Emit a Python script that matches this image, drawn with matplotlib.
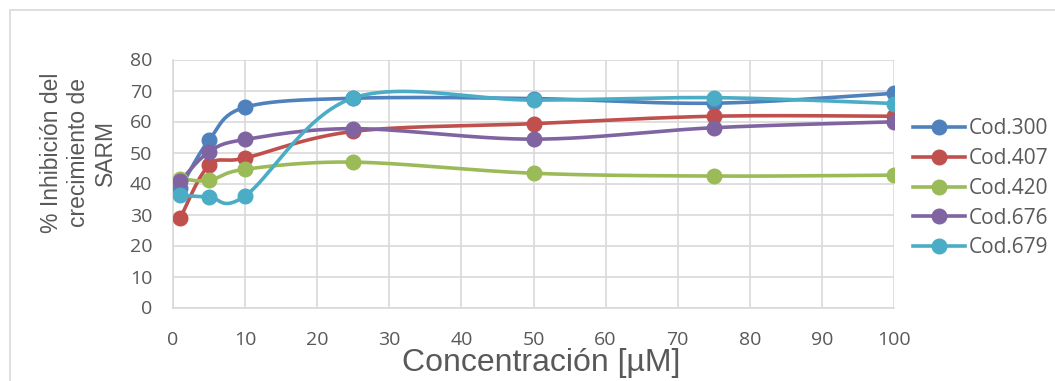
import numpy as np
import matplotlib.pyplot as plt
from matplotlib.patches import Rectangle

plt.rcParams['font.family'] = ['Open Sans', 'DejaVu Sans']

# Concentration (uM) and % inhibition for each compound
conc = [1, 5, 10, 25, 50, 75, 100]
cod300 = [38.5, 54.0, 64.6, 67.5, 67.4, 65.9, 69.1]
cod407 = [28.8, 45.9, 48.2, 56.8, 59.3, 61.7, 61.7]
cod420 = [41.5, 41.0, 44.6, 46.9, 43.3, 42.4, 42.7]
cod676 = [40.8, 50.2, 54.2, 57.7, 54.3, 58.0, 59.9]
cod679 = [36.2, 35.7, 36.0, 67.6, 66.9, 67.7, 65.8]

series = [
    ('Cod.300', cod300, '#4f81bd'),
    ('Cod.407', cod407, '#c0504d'),
    ('Cod.420', cod420, '#9bbb59'),
    ('Cod.676', cod676, '#8064a2'),
    ('Cod.679', cod679, '#4bacc6'),
]

x_ticks = list(range(0, 101, 10))
y_ticks = list(range(0, 81, 10))


def smooth(xs, ys, n=40):
    # Catmull-Rom style bezier through the points (like spreadsheet "smoothed line")
    p = np.column_stack([xs, ys]).astype(float)
    p_ext = np.vstack([p[0], p, p[-1]])
    out = []
    t = np.linspace(0, 1, n)[:, None]
    for i in range(1, len(p_ext) - 2):
        p0, p1, p2, p3 = p_ext[i - 1], p_ext[i], p_ext[i + 1], p_ext[i + 2]
        c1 = p1 + (p2 - p0) / 6
        c2 = p2 - (p3 - p1) / 6
        seg = ((1 - t) ** 3) * p1 + 3 * ((1 - t) ** 2) * t * c1 + 3 * (1 - t) * t ** 2 * c2 + t ** 3 * p2
        out.append(seg if i == 1 else seg[1:])
    out = np.vstack(out)
    return out[:, 0], out[:, 1]


fig = plt.figure(figsize=(10.55, 3.81), dpi=100)
fig.patches.append(Rectangle((10 / 1055, -0.1), 1.2, 0.1 + 371 / 381, transform=fig.transFigure,
                             fill=False, edgecolor='#d9d9d9', linewidth=1.2))

ax = fig.add_axes([173 / 1055, 1 - 307.5 / 381, (894 - 173) / 1055, (307.5 - 59.5) / 381])

for name, vals, col in series:
    sx, sy = smooth(conc, vals)
    ax.plot(sx, sy, color=col, linewidth=2.6, solid_capstyle='round', zorder=3)
    ax.plot(conc, vals, linestyle='none', marker='o', markersize=10.5, color=col, zorder=4)
    ax.plot([], [], color=col, linewidth=2.6, marker='o', markersize=10.5, label=name)

ax.set_xlim(0, 100)
ax.set_ylim(0, 80)
ax.set_xticks(x_ticks)
ax.set_yticks(y_ticks)
ax.grid(True, color='#d9d9d9', linewidth=1.2)
ax.set_axisbelow(True)
for s in ['top', 'right']:
    ax.spines[s].set_visible(False)
for s in ['left', 'bottom']:
    ax.spines[s].set_color('#d9d9d9')
    ax.spines[s].set_linewidth(1.2)
ax.tick_params(length=0, labelsize=14, colors='#595959')
ax.tick_params(axis='y', pad=15)
ax.tick_params(axis='x', pad=17)

ax.set_xlabel('Concentración [µM]', fontsize=23, color='#595959', labelpad=-1,
              family=['Liberation Sans', 'DejaVu Sans'])
ax.xaxis.label.set_x(0.511)
ax.set_ylabel('% Inhibición del\ncrecimiento de\nSARM', fontsize=16.5, color='#595959',
              linespacing=1.22, labelpad=9, family=['Liberation Sans', 'DejaVu Sans'])
ax.yaxis.label.set_y(0.623)

leg = ax.legend(loc='center left', bbox_to_anchor=(1.0, 0.48), frameon=False,
                fontsize=15, labelcolor='#595959', handlelength=2.5, handletextpad=0.2,
                labelspacing=0.42)

fig.savefig('out.png', dpi=100)
